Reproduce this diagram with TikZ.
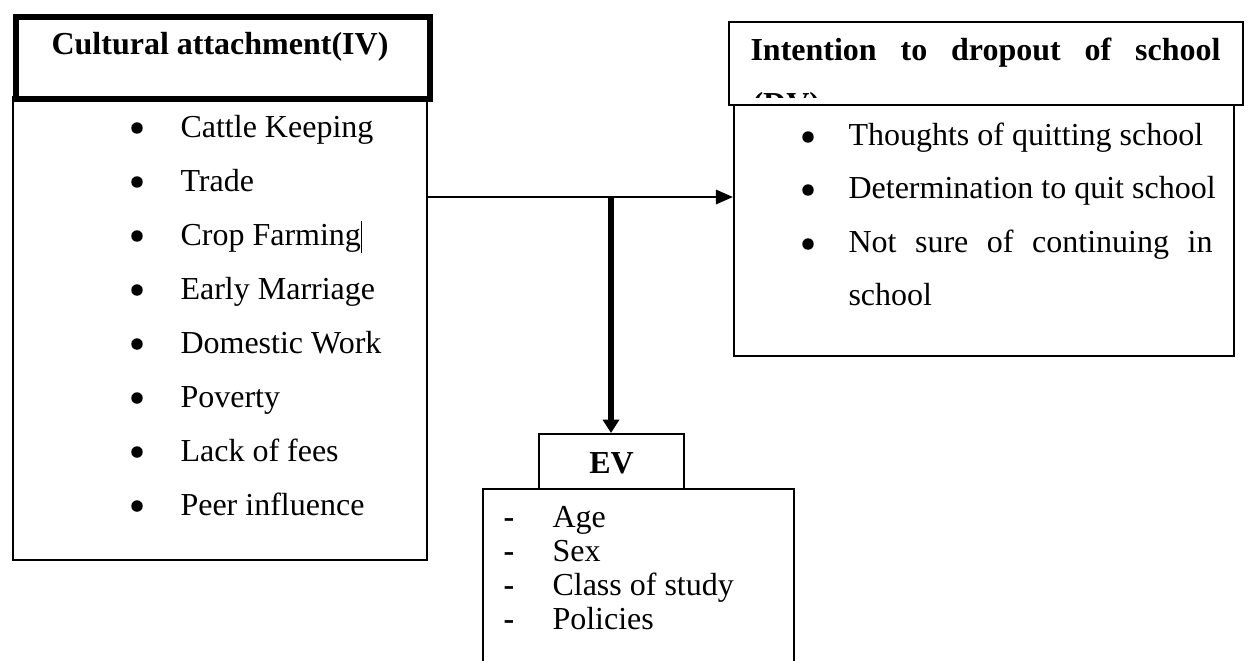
\documentclass[tikz,border=0pt]{standalone}
\usepackage{fontspec}
\setmainfont{Liberation Serif}
\usetikzlibrary{arrows.meta}

\begin{document}
\begin{tikzpicture}[x=0.375pt, y=-0.375pt, font=\fontsize{12}{14}\selectfont,
    box/.style = {draw, rectangle, line width=0.75pt, inner sep=0, anchor=north west},
    item/.style = {anchor=base west, inner sep=0},
    dot/.style = {circle, fill, inner sep=0, minimum size=4.3pt},
    flow/.style = {line width=1pt, -{Triangle[length=6.4pt, width=5.3pt]}},
    bigflow/.style = {line width=1.9pt, -{Triangle[length=5pt, width=6pt]}}]
        \clip (0,0) rectangle (1259,660);
        \fill[white] (0,0) rectangle (1259,660);

        % independent variable
        \node[box, minimum width=155.25pt, minimum height=173.6pt] (IVlist) at (12,96) {};
        \node[box, line width=2.25pt, minimum width=155.25pt, minimum height=30.75pt] (IVhead) at (13,14) {};
        \node[anchor=base, inner sep=0] (IVtitle) at (220,54) {\bfseries Cultural attachment(IV)};
        \foreach \txt [count=\i] in {Cattle Keeping, Trade, Crop Farming\rule[-3pt]{0.5pt}{12pt}, Early Marriage,
                Domestic Work, Poverty, Lack of fees, Peer influence} {
            \node[dot] (ivb\i) at (137,128+54*\i-54) {};
            \node[item] (iv\i) at (180,137+54*\i-54) {\txt};
        }

        % dependent variable
        \node[box, minimum width=187.5pt, minimum height=94.1pt] (DVlist) at (733,104) {};
        \node[box, minimum width=192.75pt, minimum height=31.1pt] (DVhead) at (728,21) {};
        \node[item] (DVtitle) at (750,60) {\makebox[176.25pt][s]{\bfseries Intention to dropout of school}};
        \begin{scope}
            \clip (728,21) rectangle (1242,97);
            \node[item] (DVtag) at (752,114) {\bfseries (DV)};
        \end{scope}
        \node[dot] (dvb1) at (808,137) {};
        \node[item] (dv1) at (848,145) {Thoughts of quitting school};
        \node[dot] (dvb2) at (808,190) {};
        \node[item] (dv2) at (848,198) {Determination to quit school};
        \node[dot] (dvb3) at (808,244) {};
        \node[item] (dv3) at (848,252) {\makebox[136.5pt][s]{Not sure of continuing in}};
        \node[item] (dv4) at (848,305) {school};

        % extraneous variable
        \node[box, minimum width=116.6pt, minimum height=72pt] (EVlist) at (482,488) {};
        \node[box, minimum width=54.4pt, minimum height=20.6pt] (EVhead) at (538,433) {};
        \node[anchor=base, inner sep=0] (EVtitle) at (EVhead.center |- 0,473) {\bfseries EV};
        \foreach \txt [count=\i] in {Age, Sex, Class of study, Policies} {
            \node[item] (evd\i) at (503,527+34.3*\i-34.3) {\bfseries -};
            \node[item] (ev\i) at (552,527+34.3*\i-34.3) {\txt};
        }

        % arrows
        \coordinate (split) at (611,197);
        \draw[line width=1pt] (IVlist.east |- split) -- (split);
        \draw[flow] (split) -- (DVlist.west |- split);
        \draw[bigflow] (split) -- (split |- EVhead.north);
    \end{tikzpicture}
\end{document}
